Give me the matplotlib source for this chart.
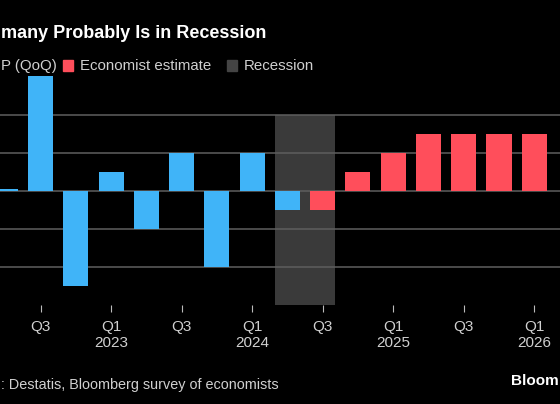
import matplotlib
matplotlib.use("Agg")
import matplotlib.pyplot as plt
from matplotlib.patches import Rectangle

# ---- data ----
quarters = ["Q2 2022", "Q3 2022", "Q4 2022", "Q1 2023", "Q2 2023", "Q3 2023",
            "Q4 2023", "Q1 2024", "Q2 2024", "Q3 2024", "Q4 2024", "Q1 2025",
            "Q2 2025", "Q3 2025", "Q4 2025", "Q1 2026"]
gdp_actual = [0.01, 0.6, -0.5, 0.1, -0.2, 0.2, -0.4, 0.2, -0.1]
economist_estimate = [-0.1, 0.1, 0.2, 0.3, 0.3, 0.3, 0.3]
recession_quarters = ["Q2 2024", "Q3 2024"]
tick_quarters = ["Q3 2022", "Q1 2023", "Q3 2023", "Q1 2024", "Q3 2024",
                 "Q1 2025", "Q3 2025", "Q1 2026"]
tick_labels = ["Q3", "Q1\n2023", "Q3", "Q1\n2024", "Q3", "Q1\n2025", "Q3", "Q1\n2026"]
grid_values = [-0.4, -0.2, 0.0, 0.2, 0.4]

# visible (cropped) texts as they appear in the reference
title = "many Probably Is in Recession"
legend_labels = ["P (QoQ)", "Economist estimate", "Recession"]
source = ": Destatis, Bloomberg survey of economists"
logo = "Bloom"

BLUE = "#40B4F8"
RED = "#FF4E5B"
SHADE = "#3A3A3A"
GRID = "#5E5E5E"
TXT = "#D0D0D0"
FONT = "Liberation Sans"

W, H = 560, 404
fig = plt.figure(figsize=(W / 100, H / 100), dpi=100, facecolor="black")
ax = fig.add_axes([0, (H - 305) / H, 1, (305 - 76.4) / H])
ax.set_facecolor("black")

idx = {q: i for i, q in enumerate(quarters)}
bw = 0.71
n_act = len(gdp_actual)
x_act = list(range(n_act))
x_est = list(range(n_act, n_act + len(economist_estimate)))

ax.bar(x_act, gdp_actual, width=bw, color=BLUE, zorder=3)
ax.bar(x_est, economist_estimate, width=bw, color=RED, zorder=3)

r0 = idx[recession_quarters[0]] - bw / 2
r1 = idx[recession_quarters[-1]] + bw / 2
ax.fill_between([r0, r1], -0.6, 0.4, color=SHADE, zorder=1, linewidth=0)

for g in grid_values:
    ax.axhline(g, color=GRID, lw=1.1, zorder=2)

ax.set_xlim(-0.153, 15.73)
ax.set_ylim(-0.6, 0.6)
for s in ax.spines.values():
    s.set_visible(False)
ax.set_yticks([])
ax.set_xticks([idx[q] for q in tick_quarters])
ax.set_xticklabels(tick_labels, fontfamily=FONT, fontsize=11, color=TXT,
                   linespacing=1.25)
ax.tick_params(axis="x", length=5, width=0.8, color="#BBBBBB", pad=5.5)


def ftext(x_px, y_px, s, size, weight="normal", color="white", ha="left"):
    return fig.text(x_px / W, (H - y_px) / H, s, fontsize=size,
                    fontweight=weight, fontfamily=FONT, color=color,
                    va="baseline", ha=ha)


ftext(1, 37.5, title, 13, weight="bold")

# legend
leg_y = 70
leg_size = 10.8
ftext(1, leg_y, legend_labels[0], leg_size, color=TXT)
for (x0, col, label) in [(63, RED, legend_labels[1]), (227, "#444444", legend_labels[2])]:
    fig.patches.append(Rectangle((x0 / W, (H - 71) / H), 9.5 / W, 11 / H,
                                 transform=fig.transFigure, color=col))
    ftext(x0 + 17, leg_y, label, leg_size, color=TXT)

ftext(1, 388.5, source, 10.4, color=TXT)
ftext(559, 385, logo, 11, weight="bold", ha="right")

fig.savefig("out.png", dpi=100, facecolor="black")
